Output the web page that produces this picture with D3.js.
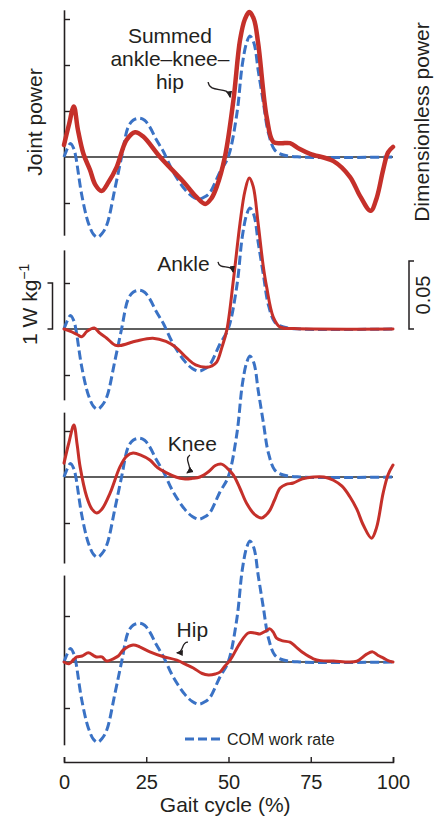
<!DOCTYPE html>
<html><head><meta charset="utf-8">
<script src="https://cdn.jsdelivr.net/npm/d3@7"></script>
<style>
html,body{margin:0;padding:0;background:#fff;}
svg text{font-family:"Liberation Sans",Arial,Helvetica,sans-serif;fill:#231f20;}
</style></head>
<body><svg id="c" width="434" height="818"></svg>
<script>
// ---- data (x = gait cycle %, y = power) ----
const comWorkRate = [[0,0],[1,0.006],[2,0.010],[3,0.006],[3.6,0],[5.4,-0.028],[7.4,-0.0485],[9,-0.057],[10.2,-0.059],[11.5,-0.0565],[13,-0.05],[15.5,-0.023],[17.5,0],[19.5,0.022],[21,0.027],[22.9,0.0285],[24.5,0.027],[26.1,0.022],[28,0.013],[30.2,0.004],[33.2,-0.011],[36.8,-0.024],[39,-0.029],[41.1,-0.031],[43,-0.029],[44.4,-0.026],[47.4,-0.011],[49.9,0],[52.5,0.031],[54.2,0.068],[55.5,0.084],[56.5,0.089],[57.7,0.084],[59.1,0.0625],[60.6,0.040],[62.1,0.018],[64.1,0.005],[66.7,0.0015],[71.7,0],[100,0]];
const summedPower = [[0,0.26],[1.5,0.7],[3,1.1],[4.2,0.6],[5.9,0.07],[7.9,-0.28],[9.5,-0.6],[11.4,-0.74],[13.5,-0.55],[16,-0.22],[19,0.37],[21.6,0.54],[24,0.45],[29.2,0],[36.3,-0.54],[40,-0.85],[42.9,-1.02],[44.8,-0.9],[46.4,-0.65],[48.9,0],[51.5,1.24],[53.5,2.54],[55,3.0],[56.3,3.15],[57.7,3.0],[59,2.48],[61.6,0.87],[63.6,0.33],[66,0.3],[68.7,0.3],[71.5,0.18],[74.8,0.07],[81.9,-0.09],[86.9,-0.43],[90,-0.85],[93.2,-1.17],[95,-0.9],[97,-0.28],[98.5,0.1],[100,0.22]];
const anklePower = [[0,0],[2,-0.05],[4,-0.12],[5.4,-0.17],[7,-0.05],[9.2,0.02],[10.9,-0.09],[13,-0.2],[15.5,-0.35],[17,-0.36],[22,-0.26],[27,-0.2],[31,-0.27],[34,-0.4],[37.3,-0.63],[40,-0.78],[43.4,-0.83],[45,-0.8],[46.4,-0.72],[48,-0.4],[49.5,-0.02],[51.5,1.07],[53.5,2.3],[55,3.0],[56.3,3.28],[57.5,3.1],[59,2.3],[60.5,1.4],[61.6,0.91],[63.6,0.26],[65.7,0.04],[70,0.01],[100,0]];
const kneePower = [[0,0.3],[1.5,0.75],[3,1.13],[4,0.7],[4.9,0.22],[6.9,-0.43],[8.5,-0.7],[9.9,-0.78],[11.5,-0.7],[14,-0.35],[17,0.22],[19,0.45],[21,0.52],[23.5,0.47],[26.1,0.37],[28.5,0.2],[31.2,0.09],[34,0],[36.3,-0.04],[39,-0.03],[41.3,0],[44,0.12],[46,0.25],[47.9,0.28],[49.5,0.2],[51.5,0.04],[53.5,-0.25],[55.5,-0.57],[58,-0.82],[60.1,-0.89],[61.5,-0.82],[62.6,-0.72],[64,-0.5],[65.7,-0.24],[67.5,-0.16],[69.7,-0.13],[72.5,-0.04],[75.8,0],[79,0],[81.9,-0.07],[84.5,-0.2],[86.9,-0.43],[89,-0.7],[91,-1.05],[93.5,-1.33],[95,-1.1],[97,-0.35],[98.5,0.05],[100,0.26]];
const hipPower = [[0,0],[1.5,-0.04],[3,0.06],[3.9,0.11],[5.5,0.13],[7.4,0.2],[9,0.14],[9.9,0.11],[11.5,0.11],[13,0.02],[15,0.07],[16.5,0.13],[18,0.26],[21,0.37],[23,0.33],[26.1,0.22],[30,0.12],[34.3,0.04],[37,-0.05],[39.3,-0.13],[42,-0.25],[43.9,-0.28],[46,-0.26],[47.4,-0.22],[49,-0.08],[50.5,0.04],[53.5,0.41],[56,0.63],[58,0.63],[59.6,0.61],[61.5,0.68],[62.6,0.72],[63.6,0.65],[64.6,0.52],[66.5,0.46],[68.7,0.43],[70.5,0.33],[72.7,0.2],[75.8,0.07],[78,0.03],[81.9,0.02],[86.9,0],[89,0.02],[90,0.06],[92,0.17],[93.8,0.22],[95.5,0.14],[97,0.09],[98.5,0.03],[100,0]];
const panelSeries = [summedPower, anklePower, kneePower, hipPower];
const panelTicks = [[-1,1,2,3],[-1,1],[-1,1],[-1,1]];
const panelDomains = [[-1.7,3.2],[-1.54,1.72],[-1.87,1.41],[-1.8,1.89]];
const xTicks = [0,25,50,75,100];
// annotation label anchor [x%, W/kg] and arrow start/tip [x%, W/kg]
const labelLines = [["Summed","ankle\u2013knee\u2013","hip"],["Ankle"],["Knee"],["Hip"]];
const labelPos = [[32.2,2.47],[36.3,1.27],[39,0.57],[39,0.55]];
const arrowStart = [[43.8,1.63],[46.8,1.46],[38.3,0.48],[37.7,0.43]];
const arrowTip = [[50.5,1.3],[51.4,1.24],[37.4,0.09],[34.3,0.2]];

// ---- layout ----
const zeroPx = [157, 329, 477, 662];
const unitPx = 46;          // px per 1 W/kg
const dimPx = 68 / 0.05;    // px per dimensionless unit
const red = "#c5302a", blue = "#3a72c5";

const svg = d3.select("#c");
const x = d3.scaleLinear().domain([0,100]).range([64,393]);

const defs = svg.append("defs");
defs.append("marker").attr("id","ah").attr("markerUnits","userSpaceOnUse")
  .attr("markerWidth",7).attr("markerHeight",7).attr("refX",6).attr("refY",3.5).attr("orient","auto")
  .append("path").attr("d","M0,0.5 L7,3.5 L0,6.5 Z").attr("fill","#231f20");

const curve = d3.curveCatmullRom.alpha(0.5);

panelSeries.forEach((series, i) => {
  const z = zeroPx[i];
  const [lo, hi] = panelDomains[i];
  const y = d3.scaleLinear().domain([lo, hi]).range([z - lo*unitPx, z - hi*unitPx]);
  const yd = d3.scaleLinear().domain([0, 0.05]).range([z, z - 0.05*dimPx]);
  const g = svg.append("g");

  // y axis
  const ax = d3.axisRight(y).tickValues(panelTicks[i]).tickSize(6).tickSizeOuter(0).tickFormat("");
  const ga = g.append("g").attr("transform","translate(64,0)").call(ax);
  ga.select(".domain").attr("stroke","#231f20").attr("stroke-width",1.6);
  ga.selectAll(".tick line").attr("stroke","#231f20").attr("stroke-width",1.4);

  // zero line
  g.append("line").attr("x1",x(0)).attr("x2",x(100)).attr("y1",y(0)).attr("y2",y(0))
    .attr("stroke","#2a2a2a").attr("stroke-width",1.3);

  // COM work rate (dashed)
  g.append("path").datum(comWorkRate)
    .attr("d", d3.line().x(d=>x(d[0])).y(d=>yd(d[1])).curve(curve))
    .attr("fill","none").attr("stroke",blue).attr("stroke-width",3).attr("stroke-dasharray","9,4");

  // joint power (red)
  g.append("path").datum(series)
    .attr("d", d3.line().x(d=>x(d[0])).y(d=>y(d[1])).curve(curve))
    .attr("fill","none").attr("stroke",red).attr("stroke-width", i===0 ? 4.5 : 3)
    .attr("stroke-linejoin","round").attr("stroke-linecap","round");

  // label
  const t = g.append("text").attr("text-anchor","middle").attr("font-size",21);
  labelLines[i].forEach((ln, k) => {
    t.append("tspan").attr("x", x(labelPos[i][0])).attr("y", y(labelPos[i][1]) + k*23).text(ln);
  });

  // curly arrow
  const s = [x(arrowStart[i][0]), y(arrowStart[i][1])];
  const e = [x(arrowTip[i][0]), y(arrowTip[i][1])];
  const dx = e[0]-s[0], dy = e[1]-s[1], len = Math.hypot(dx,dy);
  const nx = -dy/len, ny = dx/len, k = len*0.35;
  const c1 = [s[0]+dx*0.33+nx*k, s[1]+dy*0.33+ny*k];
  const c2 = [s[0]+dx*0.66-nx*k, s[1]+dy*0.66-ny*k];
  g.append("path").attr("d",`M${s[0]},${s[1]} C${c1[0]},${c1[1]} ${c2[0]},${c2[1]} ${e[0]},${e[1]}`)
    .attr("fill","none").attr("stroke","#231f20").attr("stroke-width",1.3).attr("marker-end","url(#ah)");

  // scale bars on the ankle panel
  if (i === 1) {
    const bx = 52.5;
    g.append("path").attr("d",`M${bx-5},${y(1)} H${bx} V${y(0)} H${bx-5}`)
      .attr("fill","none").attr("stroke","#231f20").attr("stroke-width",1.5);
    const t1 = g.append("text").attr("transform",`translate(37,${y(0)+16}) rotate(-90)`).attr("font-size",21);
    t1.append("tspan").text("1 W kg");
    t1.append("tspan").attr("font-size",14).attr("dy",-8).text("\u22121");
    const rx = 409;
    g.append("path").attr("d",`M${rx+5},${yd(0.05)} H${rx} V${yd(0)} H${rx+5}`)
      .attr("fill","none").attr("stroke","#231f20").attr("stroke-width",1.5);
    g.append("text").attr("transform",`translate(430,${(yd(0)+yd(0.05))/2}) rotate(-90)`)
      .attr("text-anchor","middle").attr("font-size",20).text("0.05");
  }
});

// side titles
svg.append("text").attr("transform","translate(42,122) rotate(-90)").attr("text-anchor","middle")
  .attr("font-size",21).text("Joint power");
svg.append("text").attr("transform","translate(429,122) rotate(-90)").attr("text-anchor","middle")
  .attr("font-size",21).text("Dimensionless power");

// x axis
const xa = d3.axisBottom(x).tickValues(xTicks).tickSize(-5).tickSizeOuter(-5).tickPadding(13);
const gx = svg.append("g").attr("transform","translate(0,762)").call(xa);
gx.select(".domain").attr("stroke","#231f20").attr("stroke-width",1.6);
gx.selectAll(".tick line").attr("stroke","#231f20").attr("stroke-width",1.4);
gx.selectAll(".tick text").attr("font-size",20).attr("font-family","Liberation Sans, Arial, sans-serif").attr("fill","#231f20");
svg.append("text").attr("x",x(49)).attr("y",812).attr("text-anchor","middle").attr("font-size",21).text("Gait cycle (%)");

// legend
const lg = svg.append("g");
lg.append("line").attr("x1",185).attr("x2",221).attr("y1",739).attr("y2",739)
  .attr("stroke",blue).attr("stroke-width",3).attr("stroke-dasharray","9,4");
lg.append("text").attr("x",227).attr("y",745).attr("font-size",16).text("COM work rate");
</script></body></html>
